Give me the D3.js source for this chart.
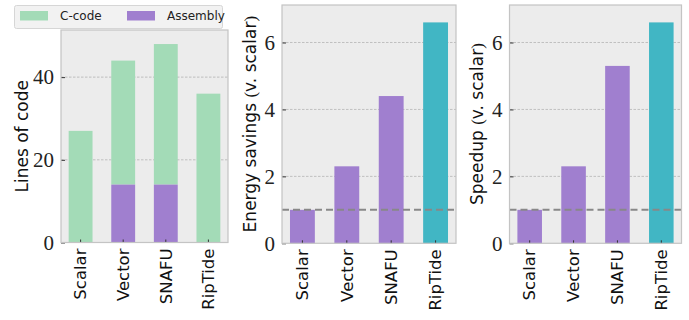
<!DOCTYPE html>
<html>
<head>
<meta charset="utf-8">
<script src="https://cdn.jsdelivr.net/npm/d3@7"></script>
<style>
  html, body { margin: 0; padding: 0; background: #fff; }
  svg { display: block; }
</style>
</head>
<body>
<svg id="chart" width="689" height="320"></svg>
<script>
// Categories shared by all three panels
const categories = ["Scalar", "Vector", "SNAFU", "RipTide"];

// Panel 1: lines of code, split into C-code and assembly
const cCodeTotal = [27, 44, 48, 36];
const assemblyLines = [0, 14, 14, 0];
const locTicks = [0, 20, 40];

// Panel 2: energy savings relative to scalar
const energySavings = [1.0, 2.3, 4.4, 6.6];
// Panel 3: speedup relative to scalar
const speedup = [1.0, 2.3, 5.3, 6.6];
const ratioTicks = [0, 2, 4, 6];
const baseline = 1;

const colors = {
  green: "#a3dbb7",
  purple: "#a07fcf",
  teal: "#41b6c4",
  bg: "#ececec",
  spine: "#c4c4c4",
  grid: "#b4b4b4",
  ref: "#888888"
};

const svg = d3.select("#chart");

function panel(opts) {
  const { left, right, top, bottom, ymax, ticks, label, labelX } = opts;
  const g = svg.append("g");
  const x = d3.scaleBand().domain(categories).range([left, right])
    .paddingInner(0.44).paddingOuter(0.18);
  const y = d3.scaleLinear().domain([0, ymax]).range([bottom, top]);

  g.append("rect").attr("x", left).attr("y", top)
    .attr("width", right - left).attr("height", bottom - top)
    .attr("fill", colors.bg);

  // horizontal grid
  g.selectAll("line.grid").data(ticks.filter(t => t > 0)).join("line")
    .attr("class", "grid")
    .attr("x1", left).attr("x2", right)
    .attr("y1", d => y(d)).attr("y2", d => y(d))
    .attr("stroke", colors.grid).attr("stroke-width", 0.8)
    .attr("stroke-dasharray", "2.5,1.5");

  return { g, x, y, left, right, top, bottom, ticks, label, labelX };
}

function finish(p) {
  const { g, x, y, left, right, top, bottom, ticks, label, labelX } = p;
  // y axis ticks (inward) and labels
  const yAxis = d3.axisLeft(y).tickValues(ticks).tickSize(-4).tickPadding(7)
    .tickFormat(d3.format("d"));
  const ya = g.append("g").attr("transform", `translate(${left},0)`).call(yAxis);
  ya.select(".domain").remove();
  ya.selectAll(".tick line").attr("stroke", "#333").attr("stroke-width", 1);
  ya.selectAll(".tick text")
    .attr("font-family", "'Liberation Serif', 'DejaVu Serif', serif")
    .attr("font-size", 21).attr("fill", "#222");

  // x axis ticks (inward) and rotated labels
  const xAxis = d3.axisBottom(x).tickSize(-3).tickPadding(8);
  const xa = g.append("g").attr("transform", `translate(0,${bottom})`).call(xAxis);
  xa.select(".domain").remove();
  xa.selectAll(".tick line").attr("stroke", "#333").attr("stroke-width", 1);
  xa.selectAll(".tick text")
    .attr("font-family", "'DejaVu Sans', sans-serif")
    .attr("font-size", 16.5).attr("fill", "#111")
    .attr("transform", "rotate(-90)")
    .attr("text-anchor", "end")
    .attr("x", -6).attr("y", 0).attr("dy", "0.35em");

  // frame
  g.append("rect").attr("x", left).attr("y", top)
    .attr("width", right - left).attr("height", bottom - top)
    .attr("fill", "none").attr("stroke", colors.spine).attr("stroke-width", 1.2);

  // y label
  const t = g.append("text")
    .attr("transform", `translate(${labelX},${(top + bottom) / 2}) rotate(-90)`)
    .attr("text-anchor", "middle").attr("dy", "0.35em")
    .attr("font-family", "'DejaVu Sans', sans-serif")
    .attr("font-size", 17).attr("fill", "#111");
  label.forEach(part => {
    t.append("tspan").text(part.text)
      .attr("font-family", part.serif ? "'Liberation Serif', serif" : "'DejaVu Sans', sans-serif");
  });
}

// ---- Panel 1: stacked lines of code ----
const p1 = panel({ left: 61, right: 228, top: 30, bottom: 242.5, ymax: 51.4,
  ticks: locTicks, label: [{ text: "Lines of code" }], labelX: 22 });
const locRows = categories.map((c, i) => ({ cat: c, asm: assemblyLines[i], total: cCodeTotal[i] }));
p1.g.selectAll("rect.c").data(locRows).join("rect")
  .attr("x", d => p1.x(d.cat)).attr("width", p1.x.bandwidth())
  .attr("y", d => p1.y(d.total)).attr("height", d => p1.y(d.asm) - p1.y(d.total))
  .attr("fill", colors.green);
p1.g.selectAll("rect.a").data(locRows.filter(d => d.asm > 0)).join("rect")
  .attr("x", d => p1.x(d.cat)).attr("width", p1.x.bandwidth())
  .attr("y", d => p1.y(d.asm)).attr("height", d => p1.y(0) - p1.y(d.asm))
  .attr("fill", colors.purple);
finish(p1);

// legend
const lg = svg.append("g");
lg.append("rect").attr("x", 14.5).attr("y", 5.5).attr("width", 208).attr("height", 23)
  .attr("rx", 2).attr("fill", "#f2f2f2").attr("stroke", "#d6d6d6");
const legendItems = [
  { name: "C-code", color: colors.green, x: 20 },
  { name: "Assembly", color: colors.purple, x: 127 }
];
legendItems.forEach(it => {
  lg.append("rect").attr("x", it.x).attr("y", 11).attr("width", 28).attr("height", 9.5)
    .attr("fill", it.color);
  lg.append("text").attr("x", it.x + 40).attr("y", 16).attr("dy", "0.35em")
    .attr("font-family", "'DejaVu Sans', sans-serif").attr("font-size", 12)
    .attr("fill", "#222").text(it.name);
});

// ---- Panels 2 and 3: ratios vs scalar ----
function ratioPanel(values, left, right, label, labelX) {
  const p = panel({ left, right, top: 5, bottom: 243.3, ymax: 7.12,
    ticks: ratioTicks, label, labelX });
  p.g.selectAll("rect.bar").data(categories).join("rect")
    .attr("x", d => p.x(d)).attr("width", p.x.bandwidth())
    .attr("y", (d, i) => p.y(values[i]))
    .attr("height", (d, i) => p.y(0) - p.y(values[i]))
    .attr("fill", d => d === "RipTide" ? colors.teal : colors.purple);
  p.g.append("line")
    .attr("x1", left).attr("x2", right)
    .attr("y1", p.y(baseline)).attr("y2", p.y(baseline))
    .attr("stroke", colors.ref).attr("stroke-width", 2)
    .attr("stroke-dasharray", "7,4");
  finish(p);
}

ratioPanel(energySavings, 282, 456,
  [{ text: "Energy savings " }, { text: "(", serif: true }, { text: "v. scalar" }, { text: ")", serif: true }], 250);
ratioPanel(speedup, 509.5, 681.5,
  [{ text: "Speedup " }, { text: "(", serif: true }, { text: "v. scalar" }, { text: ")", serif: true }], 477);
</script>
</body>
</html>
